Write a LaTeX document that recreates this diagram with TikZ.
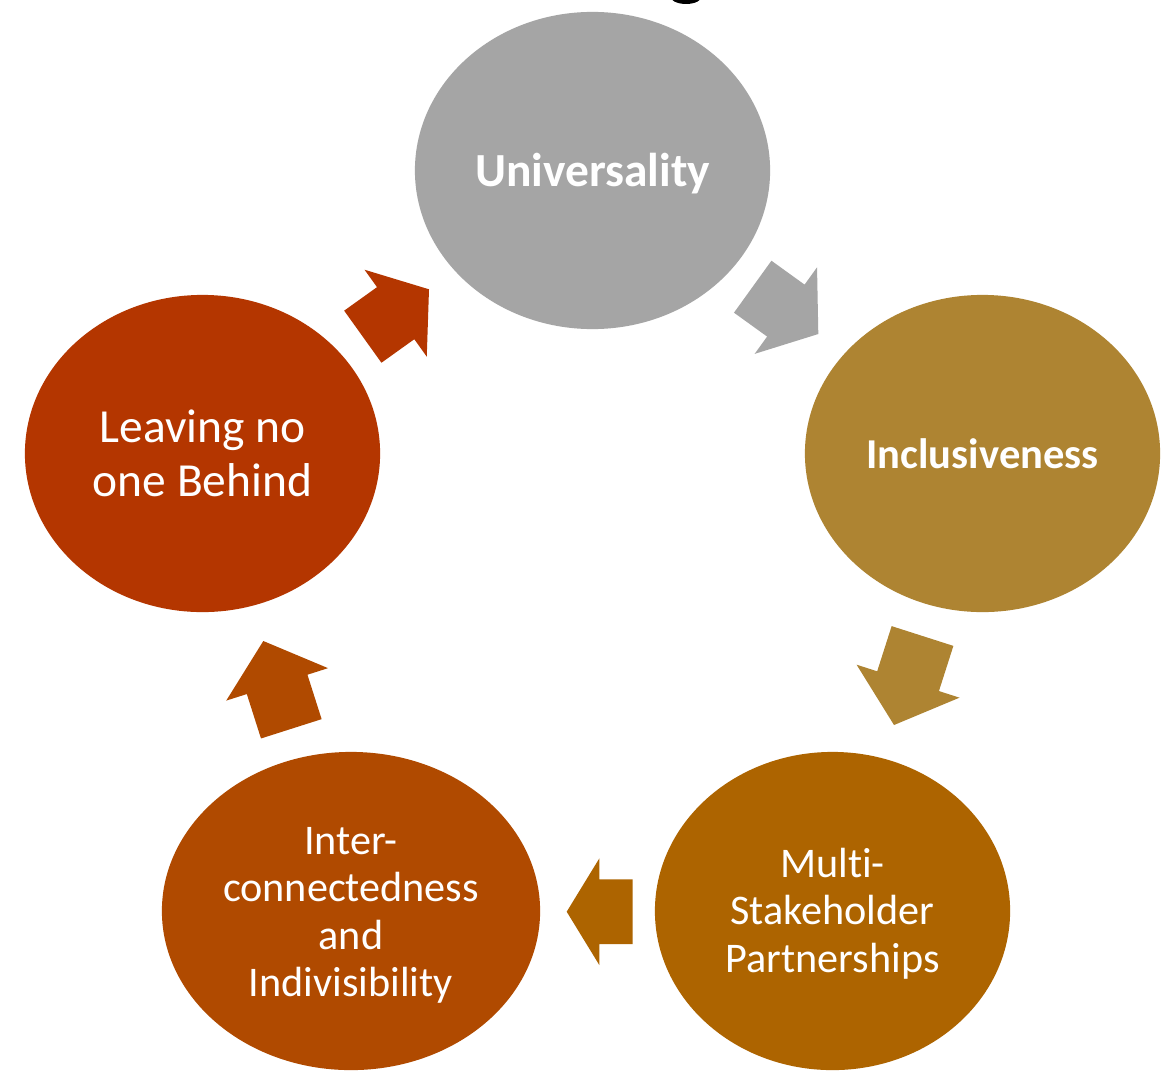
\documentclass[tikz,border=0pt]{standalone}
\usepackage{fontspec}
\setmainfont{Carlito}[Ligatures=NoCommon]
\usetikzlibrary{calc,shapes.geometric}

\definecolor{cUni}{HTML}{A5A5A5}
\definecolor{cInc}{HTML}{AE8432}
\definecolor{cMul}{HTML}{AD6400}
\definecolor{cInt}{HTML}{B04A00}
\definecolor{cLea}{HTML}{B43600}

% block arrow from #1 (tail middle) to #2 (tip):
% #3 half shaft width, #4 half head width, #5 head length, #6 colour
\newcommand{\blockarrow}[6]{%
  \coordinate (hb) at ($(#2)!#5!(#1)$);
  \fill[#6] ($(#1)!#3!90:(#2)$) -- ($(hb)!#3!90:(#2)$) -- ($(hb)!#4!90:(#2)$)
    -- (#2) -- ($(hb)!#4!-90:(#2)$) -- ($(hb)!#3!-90:(#2)$)
    -- ($(#1)!#3!-90:(#2)$) -- cycle;
}

\tikzset{
  bubble/.style={ellipse, inner sep=0pt},
  label text/.style={text=white, align=center, inner sep=0pt},
  bigfont/.style={font=\fontsize{13.5}{15.2}\selectfont},
  smallfont/.style={font=\fontsize{12}{13.5}\selectfont},
}

\begin{document}
\begin{tikzpicture}[x=0.01cm, y=-0.01cm]
  \useasboundingbox (0,0) rectangle (1165,1073);
  \fill[white] (0,0) rectangle (1165,1073);

  % descender of the heading above
  \fill[black] (686,-4) ellipse (16 and 8);

  % the five principles
  \node[bubble, fill=cUni, minimum width=3.55cm, minimum height=3.17cm]
    (uni) at (592.5,170.5) {};
  \node[bubble, fill=cInc, minimum width=3.55cm, minimum height=3.17cm]
    (inc) at (982.5,453.5) {};
  \node[bubble, fill=cMul, minimum width=3.55cm, minimum height=3.18cm]
    (mul) at (832.5,911) {};
  \node[bubble, fill=cInt, minimum width=3.78cm, minimum height=3.18cm]
    (int) at (351,911) {};
  \node[bubble, fill=cLea, minimum width=3.55cm, minimum height=3.17cm]
    (lea) at (202.5,453.5) {};

  \node[label text, bigfont, yshift=-0.03cm] (uniT) at (uni) {\bfseries Universality};
  \node[label text, font=\fontsize{12.1}{14}\selectfont\bfseries] (incT) at (inc) {Inclusiveness};
  \node[label text, smallfont, yshift=-0.025cm] (mulT) at (mul) {Mult\kern0pt i-\\Stakeholder\\Partnerships};
  \node[label text, smallfont, yshift=-0.045cm] (intT) at (int) {Inter-\\connectedness\\and\\Indivisibility};
  \node[label text, bigfont] (leaT) at (lea) {Leaving no\\one Behind};

  % arrow ends
  \coordinate (a1s) at (752.7,286.7); \coordinate (a1e) at (818.3,334);
  \coordinate (a3s) at (922.5,636);   \coordinate (a3e) at (894,725);
  \coordinate (a4s) at (632.7,911.7); \coordinate (a4e) at (566.7,911.7);
  \coordinate (a5s) at (291.3,728.8); \coordinate (a5e) at (263.3,641);
  \coordinate (a2s) at (362.8,336.7); \coordinate (a2e) at (429,289.3);

  % cycle of block arrows
  \blockarrow{a1s}{a1e}{0.32cm}{0.533cm}{0.40cm}{cUni}
  \blockarrow{a3s}{a3e}{0.324cm}{0.54cm}{0.46cm}{cInc}
  \blockarrow{a4s}{a4e}{0.323cm}{0.533cm}{0.326cm}{cMul}
  \blockarrow{a5s}{a5e}{0.318cm}{0.534cm}{0.455cm}{cInt}
  \blockarrow{a2s}{a2e}{0.32cm}{0.534cm}{0.41cm}{cLea}
\end{tikzpicture}
\end{document}
